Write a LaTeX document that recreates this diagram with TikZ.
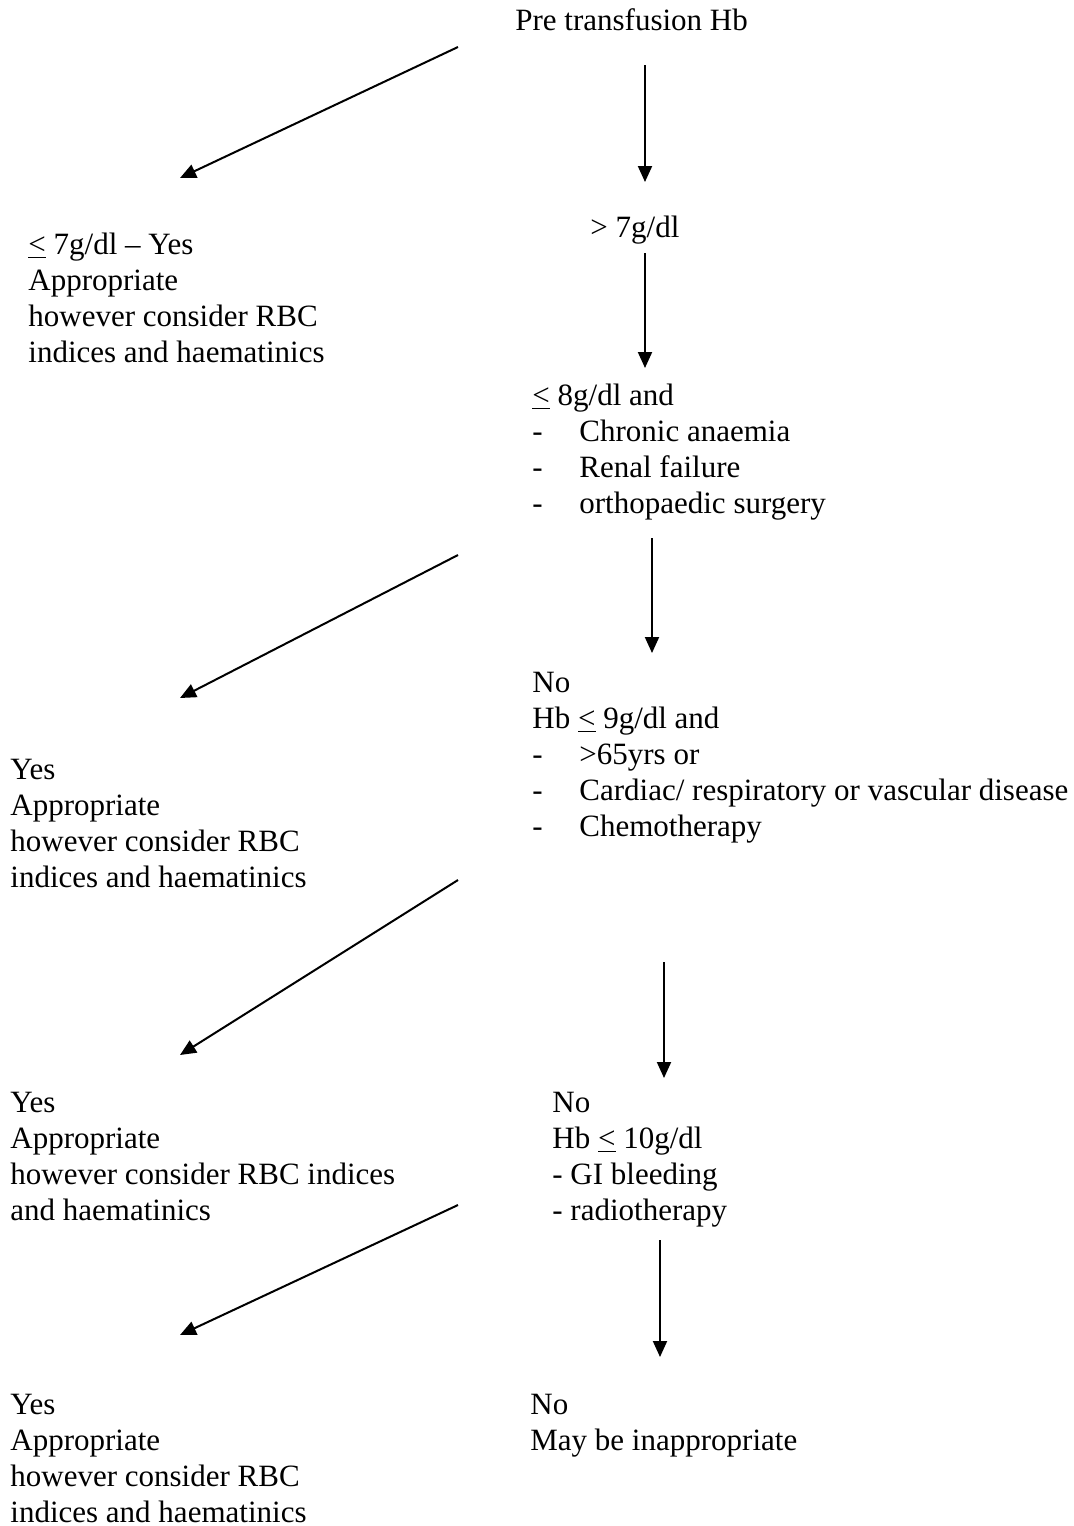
\documentclass[tikz,border=0pt]{standalone}
\usepackage{fontspec}
\setmainfont{Liberation Serif}
\usetikzlibrary{arrows.meta}
\newcommand{\lesseq}{\underline{<}}
\newcommand{\tabdash}[1]{\makebox[23.5pt][l]{-}#1}
\begin{document}
\begin{tikzpicture}[x=0.5pt, y=-0.5pt,
  txt/.style={anchor=north west, align=left, inner sep=0pt,
    font=\fontsize{15.5}{18}\selectfont},
  arr/.style={line width=1pt, -{Triangle[length=8pt,width=7pt]}}]
  \useasboundingbox (0,0) rectangle (1074,1526);
  % text blocks
  \node[txt] (pre)  at (515,8)   {Pre transfusion Hb};
  \node[txt] (gtseven) at (590,216) {> 7g/dl};
  \node[txt] (yesone) at (28,233)
    {\lesseq\ 7g/dl -- Yes\\Appropriate\\however consider RBC\\indices and haematinics};
  \node[txt] (leeight) at (532,384)
    {\lesseq\ 8g/dl and\\\tabdash{Chronic anaemia}\\\tabdash{Renal failure}\\\tabdash{orthopaedic surgery}};
  \node[txt] (yestwo) at (10,759)
    {Yes\\Appropriate\\however consider RBC\\indices and haematinics};
  \node[txt] (lenine) at (532,672)
    {No\\Hb \lesseq\ 9g/dl and\\\tabdash{>65yrs or}\\\tabdash{Cardiac/ respiratory or vascular disease}\\\tabdash{Chemotherapy}};
  \node[txt] (yesthree) at (10,1092)
    {Yes\\Appropriate\\however consider RBC indices\\and haematinics};
  \node[txt] (leten) at (552,1092)
    {No\\Hb \lesseq\ 10g/dl\\- GI bleeding\\- radiotherapy};
  \node[txt] (yesfour) at (10,1394)
    {Yes\\Appropriate\\however consider RBC\\indices and haematinics};
  \node[txt] (noend) at (530,1394) {No\\May be inappropriate};
  % arrow ends
  \coordinate (d1s) at (458,47);   \coordinate (d1e) at (180,178);
  \coordinate (v1s) at (645,65);   \coordinate (v1e) at (645,182);
  \coordinate (v2s) at (645,253);  \coordinate (v2e) at (645,368);
  \coordinate (d2s) at (458,555);  \coordinate (d2e) at (180,698);
  \coordinate (v3s) at (652,538);  \coordinate (v3e) at (652,653);
  \coordinate (d3s) at (458,880);  \coordinate (d3e) at (180,1055);
  \coordinate (v4s) at (664,962);  \coordinate (v4e) at (664,1078);
  \coordinate (d4s) at (458,1205); \coordinate (d4e) at (180,1335);
  \coordinate (v5s) at (660,1240); \coordinate (v5e) at (660,1357);
  % arrows
  \draw[arr] (d1s) -- (d1e);
  \draw[arr] (v1s) -- (v1e);
  \draw[arr] (v2s) -- (v2e);
  \draw[arr] (d2s) -- (d2e);
  \draw[arr] (v3s) -- (v3e);
  \draw[arr] (d3s) -- (d3e);
  \draw[arr] (v4s) -- (v4e);
  \draw[arr] (d4s) -- (d4e);
  \draw[arr] (v5s) -- (v5e);
\end{tikzpicture}
\end{document}
